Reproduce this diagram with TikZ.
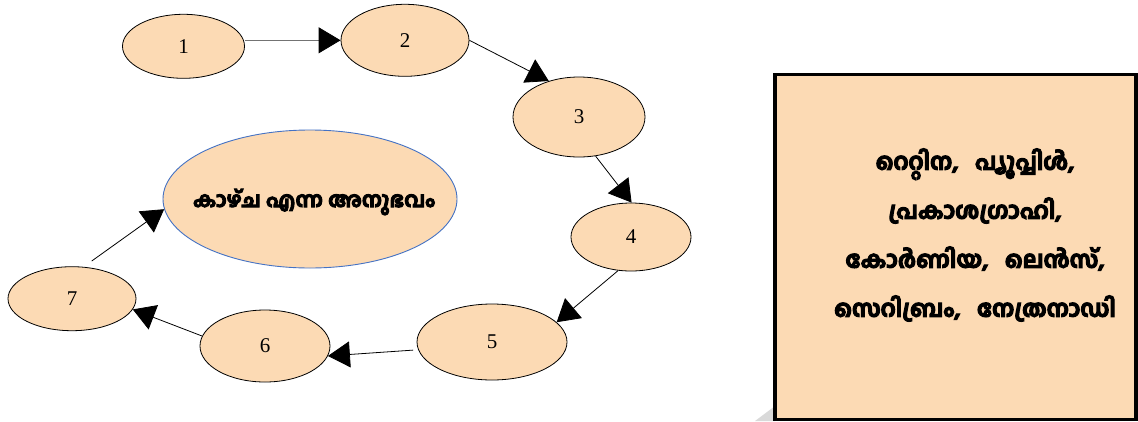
\documentclass[tikz,border=0pt]{standalone}
\usepackage{fontspec}
\setmainfont{Liberation Serif}
\newfontfamily\mlfont[Script=Malayalam,BoldFeatures={FakeBold=5}]{Hind Kochi}
\usetikzlibrary{arrows.meta,shapes.geometric}
\definecolor{peach}{HTML}{FCDAB4}
\definecolor{blueline}{HTML}{4472C4}
\newcommand{\gap}{\hspace{0.7em}}
\tikzset{
  stage/.style={ellipse, draw=black, line width=0.8pt, fill=peach, inner sep=0pt,
    font=\fontsize{21}{25}\selectfont},
  goal/.style={ellipse, draw=blueline, line width=0.9pt, fill=peach, inner sep=0pt},
  goaltext/.style={font=\mlfont\bfseries\fontsize{21}{25}\selectfont},
  flow/.style={line width=0.8pt, draw=black, -{Triangle[length=22pt,width=26pt,color=black]}},
  grayflow/.style={flow, draw=black!55},
  framebox/.style={draw=black, line width=3.5pt, fill=peach, inner sep=0pt},
  boxtext/.style={align=center, font=\mlfont\bfseries\fontsize{23.3}{49}\selectfont}
}
\begin{document}
\begin{tikzpicture}[x=1pt,y=-1pt]
\useasboundingbox (0,0) rectangle (1138,421);
% shadow remnant at box corner
\fill[black!15] (755,421) -- (775,406) -- (775,421) -- cycle;
\node[framebox, minimum width=361pt, minimum height=345pt] (box) at (955.5,247) {};
\node[boxtext] (list) at (975,235) {റെറ്റിന,\gap പ്യൂപ്പിൾ,\\പ്രകാശഗ്രാഹി,\\കോർണിയ,\gap ലെൻസ്,\\സെറിബ്രം,\gap നേത്രനാഡി};

\node[stage, minimum width=122pt, minimum height=64pt] (e1) at (183.5,46.3) {1};
\node[stage, minimum width=128pt, minimum height=72pt] (e2) at (405,40.3) {2};
\node[stage, minimum width=132pt, minimum height=80pt] (e3) at (579,117) {3};
\node[stage, minimum width=120pt, minimum height=68pt] (e4) at (631,237) {4};
\node[stage, minimum width=150pt, minimum height=76pt] (e5) at (492,342) {5};
\node[stage, minimum width=130pt, minimum height=72pt] (e6) at (265,346) {6};
\node[stage, minimum width=128pt, minimum height=64pt] (e7) at (72,298.7) {7};
\node[goal, minimum width=294pt, minimum height=138pt,
  label={[goaltext, xshift=4pt, yshift=-3pt]center:കാഴ്ച എന്ന അനുഭവം}] (see) at (310,199) {};

\draw[grayflow] (e1.east |- e2.west) -- (e2.west);
\draw[flow] (e2.east) -- (e3.130);
\draw[flow] (e3.293) -- (e4.89);
\draw[flow] (e4.249) -- (e5.17);
\draw[flow, shorten <=5pt] (e5.186) -- (e6.351);
\draw[flow] (e6.171) -- (e7.350);
\draw[flow, shorten <=10pt] (e7.70) -- (see.184);
\end{tikzpicture}
\end{document}
